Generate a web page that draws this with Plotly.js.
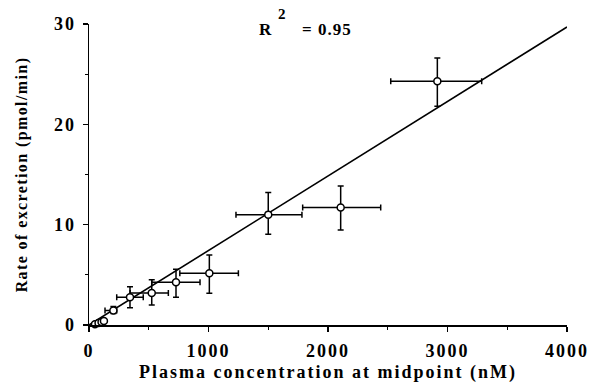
<!DOCTYPE html>
<html>
<head>
<meta charset="utf-8">
<script src="https://cdn.plot.ly/plotly-3.0.1.min.js"></script>
<style>
html,body{margin:0;padding:0;background:#fff;}
#chart{width:593px;height:383px;}
.xtitle{letter-spacing:2px;}
.ytitle{letter-spacing:1.4px;}
.xtick text,.ytick text{letter-spacing:2px;}
.annotation-text{letter-spacing:1px;}
</style>
</head>
<body>
<div id="chart"></div>
<script>
// Plasma concentration at midpoint (nM)
const conc = [50, 80, 105, 125, 204, 343, 525, 728, 1007, 1500, 2106, 2915];
const concErrMinus = [15, 15, 15, 15, 70, 111, 181, 203, 247, 270, 318, 390];
const concErrPlus = [15, 15, 15, 15, 28, 111, 139, 201, 243, 282, 335, 371];
// Rate of excretion (pmol/min)
const rate = [0.07, 0.2, 0.3, 0.4, 1.45, 2.76, 3.2, 4.26, 5.15, 11.0, 11.7, 24.3];
const rateErrPlus = [0.1, 0.1, 0.1, 0.1, 0.4, 1.06, 1.3, 1.3, 1.83, 2.2, 2.16, 2.3];
const rateErrMinus = [0.1, 0.1, 0.1, 0.1, 0.3, 1.03, 1.2, 1.5, 1.99, 1.95, 2.23, 2.5];
// regression line
const fitX = [0, 4000];
const fitY = [0, 29.7];
const r2Parts = ["R", "2", "= 0.95"];

const font = "Liberation Serif, Times New Roman, serif";

const traces = [
  {
    x: fitX, y: fitY, mode: "lines", type: "scatter",
    line: {color: "#000", width: 1.6}, hoverinfo: "skip", cliponaxis: false
  },
  {
    x: conc, y: rate, mode: "markers", type: "scatter", cliponaxis: false,
    marker: {symbol: "circle", size: 7, color: "#fff", line: {color: "#000", width: 1.5}},
    error_x: {type: "data", symmetric: false, array: concErrPlus, arrayminus: concErrMinus, color: "#000", thickness: 1.5, width: 3},
    error_y: {type: "data", symmetric: false, array: rateErrPlus, arrayminus: rateErrMinus, color: "#000", thickness: 1.5, width: 3}
  }
];

const tf = {family: font, size: 18, color: "#000", weight: "bold"};

const layout = {
  width: 593, height: 383,
  margin: {l: 89, r: 26, t: 24, b: 58},
  paper_bgcolor: "#fff", plot_bgcolor: "#fff",
  showlegend: false,
  font: {family: font, color: "#000"},
  xaxis: {
    range: [0, 4000], tickvals: [0, 1000, 2000, 3000, 4000],
    showgrid: false, zeroline: false, showline: true, linecolor: "#000", linewidth: 1.5,
    ticks: "outside", ticklen: 5, tickwidth: 1.5, tickcolor: "#000", ticklabelstandoff: 4,
    minor: {tickvals: [500, 1500, 2500, 3500], ticks: "outside", ticklen: 3, tickwidth: 1.2, tickcolor: "#000", showgrid: false},
    tickfont: tf,
    title: {text: "<b>Plasma concentration at midpoint (nM)</b>", font: {family: font, size: 18, color: "#000"}, standoff: 6}
  },
  yaxis: {
    range: [0, 30], tickvals: [0, 10, 20, 30],
    showgrid: false, zeroline: false, showline: true, linecolor: "#000", linewidth: 1.5,
    ticks: "outside", ticklen: 5, tickwidth: 1.5, tickcolor: "#000", ticklabelstandoff: 3,
    minor: {tickvals: [5, 15, 25], ticks: "outside", ticklen: 3, tickwidth: 1.2, tickcolor: "#000", showgrid: false},
    tickfont: tf,
    title: {text: "<b>Rate of excretion (pmol/min)</b>", font: {family: font, size: 16, color: "#000"}, standoff: 22}
  },
  annotations: [
    {x: 1473, y: 1.02, xref: "x", yref: "paper", text: "<b>" + r2Parts[0] + "</b>", showarrow: false,
     font: {family: font, size: 17, color: "#000"}},
    {x: 1620, y: 1.065, xref: "x", yref: "paper", text: "<b>" + r2Parts[1] + "</b>", showarrow: false,
     font: {family: font, size: 15, color: "#000"}},
    {x: 1992, y: 1.02, xref: "x", yref: "paper", text: "<b>" + r2Parts[2] + "</b>", showarrow: false,
     font: {family: font, size: 17, color: "#000"}}
  ]
};

Plotly.newPlot("chart", traces, layout, {staticPlot: true, displayModeBar: false});
</script>
</body>
</html>
